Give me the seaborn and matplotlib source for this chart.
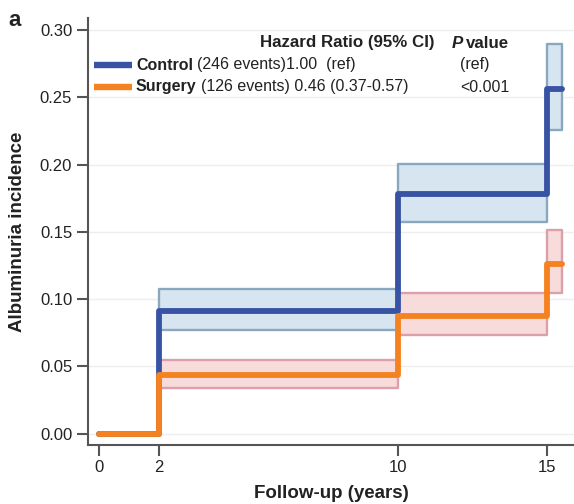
import matplotlib
matplotlib.use("Agg")
import matplotlib.pyplot as plt
import seaborn as sns
import pandas as pd
import numpy as np

# ---- data ----
times = [0, 2, 10, 15, 15.5]
control = [0.0, 0.091, 0.178, 0.256, 0.256]
surgery = [0.0, 0.0435, 0.0876, 0.126, 0.126]

seg_start = [2, 10, 15]
seg_end = [10, 15, 15.5]
control_lo = [0.077, 0.157, 0.2257]
control_hi = [0.1074, 0.2005, 0.2896]
surgery_lo = [0.034, 0.0735, 0.1045]
surgery_hi = [0.055, 0.1045, 0.1515]

xticks = [0, 2, 10, 15]
yticks = [0.00, 0.05, 0.10, 0.15, 0.20, 0.25, 0.30]

BLUE = "#3953a4"
ORANGE = "#f58220"
BLUE_FILL = "#d7e5f1"
BLUE_EDGE = "#89a8bf"
PINK_FILL = "#f8dbdb"
PINK_EDGE = "#dca1a8"

sns.set_style("ticks")
plt.rcParams["font.family"] = ["Liberation Sans", "DejaVu Sans"]

W, H = 574, 504
fig = plt.figure(figsize=(W / 100, H / 100), dpi=100)
ax = fig.add_axes([87.5 / W, 1 - 445 / H, 1 - 87.5 / W, (445 - 18) / H])

# CI boxes
for s, e, lo, hi in zip(seg_start, seg_end, control_lo, control_hi):
    ax.fill_between([s, e], [lo, lo], [hi, hi], facecolor=BLUE_FILL,
                    edgecolor=BLUE_EDGE, linewidth=1.7, zorder=2)
for s, e, lo, hi in zip(seg_start, seg_end, surgery_lo, surgery_hi):
    ax.fill_between([s, e], [lo, lo], [hi, hi], facecolor=PINK_FILL,
                    edgecolor=PINK_EDGE, linewidth=1.7, zorder=2)

df = pd.DataFrame({
    "time": times * 2,
    "inc": control + surgery,
    "group": ["Control"] * len(times) + ["Surgery"] * len(times),
})
sns.lineplot(data=df, x="time", y="inc", hue="group",
             palette={"Control": BLUE, "Surgery": ORANGE},
             drawstyle="steps-post", linewidth=4.2, legend=False, ax=ax,
             zorder=3)

ax.set_xlim(-0.385, 15.89)
ax.set_ylim(-0.0085, 0.309)
ax.set_xticks(xticks)
ax.set_yticks(yticks)
ax.set_yticklabels([f"{v:.2f}" for v in yticks])
ax.set_xticklabels([str(v) for v in xticks])
ax.tick_params(axis="both", labelsize=12, length=8, width=1.5,
               color="#555555", labelcolor="#222222", pad=3)
for sp in ["top", "right"]:
    ax.spines[sp].set_visible(False)
for sp in ["left", "bottom"]:
    ax.spines[sp].set_color("#555555")
    ax.spines[sp].set_linewidth(1.5)
ax.yaxis.grid(True, color="#eeeeee", linewidth=1)
ax.set_axisbelow(True)

ax.set_xlabel("Follow-up (years)", fontsize=13.5, fontweight="bold",
              color="#222222", va="center")
ax.xaxis.set_label_coords((331 - 87.5) / (W - 87.5), -(493 - 445) / 427)
ax.set_ylabel("Albuminuria incidence", fontsize=13.5, fontweight="bold",
              color="#222222", va="center")
ax.yaxis.set_label_coords(-(87.5 - 17.5) / (W - 87.5), 0.5)

# panel letter
fig.text(8 / W, 1 - 21 / H, "a", fontsize=16, fontweight="bold",
         va="center", ha="left", color="#222222")


def fx(px):
    return px / W


def fy(py):
    return 1 - py / H


fs = 11.5
col = "#222222"
fig.text(fx(435), fy(43), "Hazard Ratio (95% CI)", fontsize=12.2,
         fontweight="bold", ha="right", va="center", color=col)
tp = fig.text(fx(452), fy(43), "P", fontsize=12.2, fontweight="bold",
              fontstyle="italic", ha="left", va="center", color=col)
fig.canvas.draw()
bb = tp.get_window_extent()
fig.text((bb.x1 + 3) / W, fy(43), "value", fontsize=12.2,
         fontweight="bold", ha="left", va="center", color=col)

for py, name, rest, pval, c in [
    (65, "Control", "(246 events)1.00  (ref)", "(ref)", BLUE),
    (87, "Surgery", "(126 events) 0.46 (0.37-0.57)", "<0.001", ORANGE),
]:
    fig.add_artist(plt.Line2D([fx(94), fx(132)], [fy(py), fy(py)],
                              color=c, linewidth=4.6, solid_capstyle="butt"))
    t = fig.text(fx(136), fy(py), name, fontsize=fs, fontweight="bold",
                 ha="left", va="center", color=col)
    fig.canvas.draw()
    bb = t.get_window_extent()
    fig.text((bb.x1 + 4) / W, fy(py), rest, fontsize=fs, ha="left",
             va="center", color=col)
    fig.text(fx(460), fy(py), pval, fontsize=fs, ha="left", va="center",
             color=col)

fig.savefig("out.png", dpi=100)
